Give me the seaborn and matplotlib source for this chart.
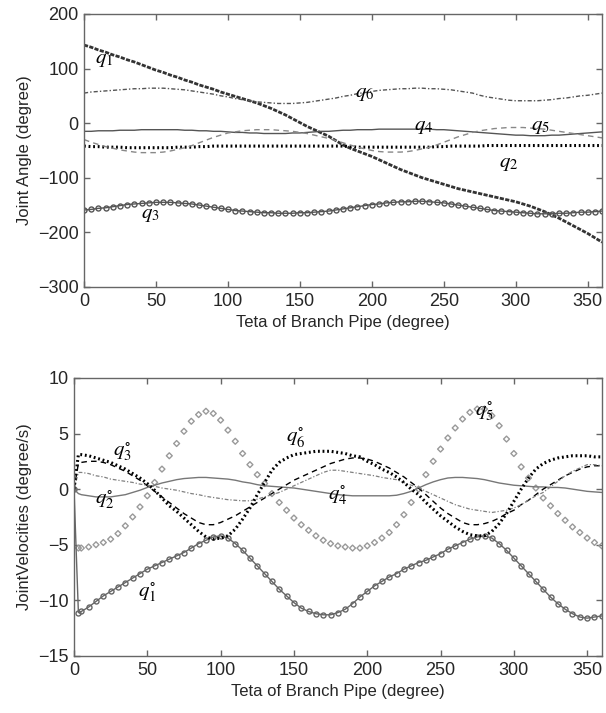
import numpy as np
import matplotlib
matplotlib.use('Agg')
import matplotlib.pyplot as plt
import seaborn as sns

# Joint angles (top panel), sampled every 5 degrees of branch pipe angle
teta = np.arange(0, 361, 5)

q1 = [143, 139, 134, 130, 125, 121, 116, 112, 107, 102, 97, 93,
      88, 84, 79, 75, 70, 66, 62, 57, 53, 49, 45, 41,
      37, 32, 27, 21, 15, 8, 1, -6, -12, -18, -24, -32,
      -40, -46, -51, -56, -61, -67, -73, -79, -85, -90, -95, -100,
      -104, -108, -112, -116, -120, -123, -126, -129, -132, -135, -138, -141,
      -144, -148, -152, -157, -162, -168, -174, -181, -188, -195, -202, -210,
      -218]
q2 = [-42, -43, -43, -44, -44, -44, -45, -45, -45, -45, -45, -45,
      -45, -44, -44, -44, -43, -43, -42, -42, -42, -42, -42, -42,
      -42, -42, -42, -42, -42, -42, -42, -42, -42, -42, -42, -42,
      -42, -43, -44, -44, -44, -44, -44, -44, -44, -44, -44, -44,
      -44, -43, -43, -42, -42, -42, -42, -42, -41, -41, -41, -41,
      -41, -41, -41, -41, -41, -41, -41, -41, -41, -41, -41, -41,
      -41]
q3 = [-159, -158, -156, -155, -153, -151, -149, -148, -147, -146, -145, -145,
      -145, -146, -147, -148, -150, -152, -154, -156, -158, -160, -161, -162,
      -163, -164, -164, -165, -165, -165, -164, -164, -163, -162, -161, -159,
      -157, -155, -153, -151, -149, -148, -146, -145, -144, -144, -143, -143,
      -144, -145, -146, -148, -150, -152, -154, -156, -158, -160, -161, -162,
      -163, -164, -165, -166, -166, -166, -165, -165, -164, -163, -163, -162,
      -161]
q4 = [-15, -15, -14, -14, -14, -13, -13, -13, -12, -12, -12, -12,
      -12, -12, -13, -13, -14, -14, -15, -15, -16, -17, -17, -18,
      -18, -19, -19, -19, -19, -18, -18, -17, -16, -15, -15, -14,
      -13, -13, -12, -12, -12, -11, -11, -11, -11, -11, -11, -11,
      -11, -12, -12, -13, -14, -15, -16, -17, -18, -19, -20, -21,
      -22, -22, -23, -23, -23, -22, -22, -21, -20, -19, -18, -17,
      -16]
q5 = [-30, -35, -39, -43, -46, -49, -51, -53, -54, -54, -54, -53,
      -51, -48, -45, -41, -36, -31, -26, -22, -18, -16, -14, -13,
      -12, -12, -12, -13, -14, -15, -17, -19, -22, -25, -28, -32,
      -36, -40, -44, -47, -50, -52, -53, -53, -53, -52, -50, -47,
      -44, -40, -35, -30, -25, -21, -17, -14, -12, -10, -9, -8,
      -8, -8, -9, -10, -11, -13, -15, -17, -19, -21, -23, -25,
      -27]
q6 = [55, 57, 58, 59, 60, 61, 62, 63, 63, 64, 64, 64,
      63, 62, 61, 59, 57, 55, 53, 50, 48, 45, 43, 41,
      39, 38, 37, 36, 36, 36, 37, 38, 40, 42, 44, 46,
      49, 51, 54, 56, 58, 60, 61, 62, 63, 63, 64, 64,
      63, 63, 62, 61, 59, 57, 55, 51, 48, 46, 44, 42,
      41, 41, 41, 41, 42, 43, 45, 46, 48, 50, 51, 53,
      55]

# Joint velocities (bottom panel): start at 0, then every 5 degrees
teta_v = np.concatenate(([0, 3], np.arange(5, 361, 5)))

v1 = [0, -11.1,
      -11.0, -10.6, -10.1, -9.6, -9.2, -8.8, -8.4, -8.0, -7.6, -7.2, -6.9, -6.6,
      -6.3, -6.0, -5.7, -5.3, -4.9, -4.6, -4.3, -4.2, -4.4, -4.9, -5.5, -6.2,
      -6.9, -7.6, -8.3, -9.0, -9.6, -10.2, -10.7, -11.0, -11.2, -11.3, -11.3, -11.1,
      -10.8, -10.3, -9.7, -9.2, -8.7, -8.3, -7.9, -7.6, -7.2, -6.9, -6.6, -6.4,
      -6.1, -5.8, -5.4, -5.1, -4.8, -4.5, -4.3, -4.2, -4.4, -4.9, -5.5, -6.2,
      -6.9, -7.6, -8.3, -9.0, -9.7, -10.3, -10.8, -11.2, -11.5, -11.6, -11.5, -11.4]
v2 = [0, -0.4,
      -0.5, -0.6, -0.7, -0.7, -0.7, -0.6, -0.5, -0.3, -0.1, 0.15, 0.35, 0.55,
      0.7, 0.85, 0.95, 1.0, 1.05, 1.05, 1.0, 0.95, 0.9, 0.8, 0.65, 0.55,
      0.4, 0.3, 0.25, 0.2, 0.15, 0.1, 0.0, -0.1, -0.2, -0.3, -0.4, -0.5,
      -0.55, -0.6, -0.6, -0.6, -0.6, -0.6, -0.6, -0.55, -0.4, -0.2, 0.1, 0.4,
      0.65, 0.85, 1.0, 1.05, 1.05, 1.0, 0.95, 0.85, 0.7, 0.55, 0.45, 0.35,
      0.3, 0.25, 0.2, 0.2, 0.15, 0.15, 0.1, 0.0, -0.1, -0.2, -0.25, -0.3]
v3 = [0, 2.3,
      2.4, 2.5, 2.5, 2.4, 2.2, 1.9, 1.6, 1.2, 0.8, 0.3, -0.2, -0.7,
      -1.2, -1.7, -2.2, -2.6, -3.0, -3.2, -3.2, -3.0, -2.7, -2.4, -2.0, -1.6,
      -1.2, -0.8, -0.4, 0.0, 0.4, 0.8, 1.1, 1.4, 1.7, 2.0, 2.3, 2.5,
      2.7, 2.8, 2.8, 2.7, 2.5, 2.2, 1.9, 1.5, 1.1, 0.6, 0.1, -0.5,
      -1.1, -1.7, -2.2, -2.6, -3.0, -3.2, -3.2, -3.1, -2.9, -2.6, -2.2, -1.9,
      -1.4, -1.0, -0.5, 0.0, 0.4, 0.8, 1.2, 1.5, 1.8, 2.0, 2.1, 2.1]
v4 = [0, 1.5,
      1.5, 1.4, 1.2, 1.1, 0.9, 0.8, 0.7, 0.6, 0.45, 0.35, 0.25, 0.1,
      0.0, -0.1, -0.25, -0.4, -0.5, -0.65, -0.75, -0.85, -0.95, -1.0, -1.05, -1.05,
      -0.9, -0.7, -0.5, -0.3, 0.0, 0.3, 0.6, 0.9, 1.2, 1.5, 1.7, 1.7,
      1.6, 1.5, 1.4, 1.3, 1.2, 1.05, 0.95, 0.85, 0.6, 0.35, 0.15, -0.2,
      -0.5, -0.8, -1.1, -1.4, -1.6, -1.8, -1.9, -2.0, -2.1, -2.0, -1.9, -1.7,
      -1.4, -1.0, -0.6, -0.3, 0.2, 0.7, 1.2, 1.6, 1.9, 2.2, 2.2, 2.1]
v5 = [0, -5.3,
      -5.3, -5.2, -5.0, -4.8, -4.5, -4.0, -3.3, -2.5, -1.6, -0.6, 0.6, 1.8,
      3.0, 4.1, 5.2, 6.1, 6.7, 7.0, 6.8, 6.2, 5.3, 4.3, 3.2, 2.2,
      1.3, 0.5, -0.4, -1.2, -1.9, -2.6, -3.2, -3.7, -4.2, -4.6, -4.9, -5.1,
      -5.2, -5.3, -5.3, -5.1, -4.8, -4.4, -3.9, -3.2, -2.3, -1.2, 0.0, 1.3,
      2.5, 3.6, 4.6, 5.5, 6.3, 6.9, 7.2, 7.2, 6.6, 5.7, 4.5, 3.2,
      2.0, 1.0, 0.1, -0.8, -1.5, -2.2, -2.8, -3.4, -3.9, -4.4, -4.8, -5.1]
v6 = [0, 3.1,
      3.1, 3.0, 2.8, 2.6, 2.4, 2.1, 1.8, 1.4, 1.0, 0.5, -0.1, -0.8,
      -1.5, -2.0, -2.6, -3.2, -3.8, -4.3, -4.5, -4.4, -4.2, -3.6, -2.7, -1.7,
      -0.5, 0.6, 1.7, 2.4, 2.8, 3.1, 3.2, 3.3, 3.4, 3.4, 3.4, 3.3,
      3.2, 3.0, 2.9, 2.5, 2.2, 1.8, 1.5, 1.1, 0.6, 0.0, -0.5, -1.2,
      -1.8, -2.4, -2.9, -3.4, -3.8, -4.1, -4.2, -4.2, -3.8, -3.1, -2.2, -1.1,
      0.0, 1.0, 1.8, 2.3, 2.6, 2.8, 2.9, 3.0, 3.0, 3.0, 2.9, 2.9]

sns.set_theme(style='ticks')
plt.rcParams['font.family'] = ['Liberation Sans', 'DejaVu Sans']
plt.rcParams['mathtext.fontset'] = 'stix'

fig = plt.figure(figsize=(6.06, 7.13), dpi=100)
ax1 = fig.add_axes([0.1386, 0.5975, 0.855, 0.383])
ax2 = fig.add_axes([0.1221, 0.080, 0.871, 0.390])

# top panel
sns.lineplot(x=teta, y=q1, ax=ax1, color='#333333', linewidth=2.0, linestyle=(0, (1.5, 0.5)))
sns.lineplot(x=teta, y=q2, ax=ax1, color='black', linewidth=2.2, linestyle=(0, (0.6, 0.9)))
sns.lineplot(x=teta, y=q3, ax=ax1, color='#555555', linewidth=1.0, marker='o',
             markersize=3.6, markerfacecolor='none', markeredgecolor='#555555', markeredgewidth=1.0)
sns.lineplot(x=teta, y=q4, ax=ax1, color='#555555', linewidth=1.0)
sns.lineplot(x=teta, y=q5, ax=ax1, color='#888888', linewidth=1.0, linestyle=(0, (4, 3)))
sns.lineplot(x=teta, y=q6, ax=ax1, color='#555555', linewidth=1.0, linestyle=(0, (3, 1.5, 1, 1.5)))

# bottom panel
sns.lineplot(x=teta_v, y=v1, ax=ax2, color='#666666', linewidth=1.0, marker='o',
             markersize=3.6, markerfacecolor='none', markeredgecolor='#666666', markeredgewidth=1.0)
sns.lineplot(x=teta_v, y=v2, ax=ax2, color='#777777', linewidth=1.0)
sns.lineplot(x=teta_v, y=v3, ax=ax2, color='black', linewidth=1.0, linestyle=(0, (4, 3)))
sns.lineplot(x=teta_v, y=v4, ax=ax2, color='#808080', linewidth=0.9, linestyle=(0, (3, 1.5, 1, 1.5)))
sns.scatterplot(x=teta_v, y=v5, ax=ax2, marker='D', s=9, facecolor='none',
                edgecolor='#999999', linewidth=1.0)
sns.lineplot(x=teta_v, y=v6, ax=ax2, color='black', linewidth=2.2, linestyle=(0, (0.6, 0.9)))

lbl = dict(fontsize=15, ha='center', va='center', color='black')
ax1.text(14, 116, '$q_1$', **lbl)
ax1.text(195, 55, '$q_6$', **lbl)
ax1.text(236, -7, '$q_4$', **lbl)
ax1.text(317, -7, '$q_5$', **lbl)
ax1.text(295, -73, '$q_2$', **lbl)
ax1.text(46, -168, '$q_3$', **lbl)

ax2.text(33, 3.4, r'$q_3^{\circ}$', **lbl)
ax2.text(21, -0.9, r'$q_2^{\circ}$', **lbl)
ax2.text(151, 4.6, r'$q_6^{\circ}$', **lbl)
ax2.text(180, -0.6, r'$q_4^{\circ}$', **lbl)
ax2.text(280, 7.0, r'$q_5^{\circ}$', **lbl)
ax2.text(50, -9.3, r'$q_1^{\circ}$', **lbl)

for ax in (ax1, ax2):
    ax.set_xlim(0, 360)
    ax.set_xticks(range(0, 351, 50))
    ax.set_xlabel('Teta of Branch Pipe (degree)', fontsize=12)
    ax.tick_params(direction='in', top=True, right=True, length=4, width=1,
                   color='#666666', labelsize=13, pad=4)
    for sp in ax.spines.values():
        sp.set_color('#666666')
        sp.set_linewidth(1.0)

ax1.set_ylim(-300, 200)
ax1.set_yticks(range(-300, 201, 100))
ax1.set_ylabel('Joint Angle (degree)', fontsize=12)
ax2.set_ylim(-15, 10)
ax2.set_yticks(range(-15, 11, 5))
ax2.set_ylabel('JointVelocities (degree/s)', fontsize=12)

fig.savefig('out.png', dpi=100)
